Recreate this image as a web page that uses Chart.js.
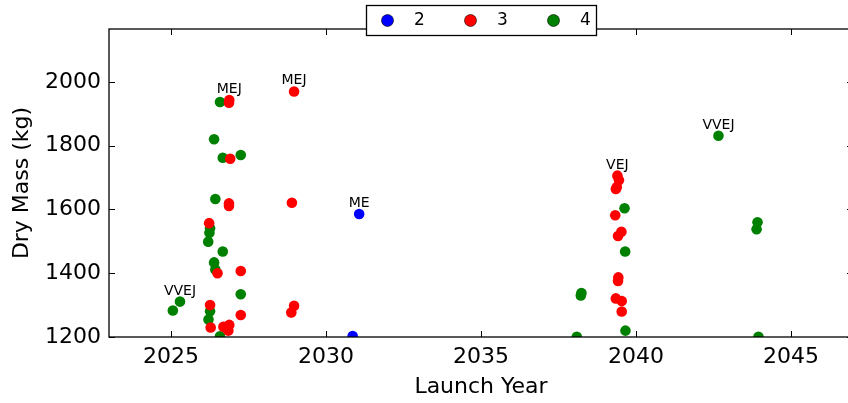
<!DOCTYPE html>
<html><head><meta charset="utf-8">
<script src="https://cdn.jsdelivr.net/npm/chart.js@4/dist/chart.umd.min.js"></script>
<style>html,body{margin:0;padding:0;overflow:hidden;background:#fff}#wrap{width:870px;height:403px}</style>
</head><body><div id="wrap"><canvas id="c" width="870" height="403"></canvas></div>
<script>
// ---- data ----
const seriesLabels = ['2', '3', '4'];
const seriesColors = ['#0000ff', '#ff0000', '#008000'];

const years2 = [2031.07, 2030.86];
const mass2  = [1586, 1203];

const years3 = [2028.97, 2026.88, 2026.87, 2026.91, 2026.87, 2026.87, 2028.90, 2026.23, 2026.50, 2027.25,
                2026.26, 2027.25, 2028.97, 2028.88, 2026.28, 2026.69, 2026.88, 2026.85, 2026.80,
                2039.40, 2039.45, 2039.38, 2039.35, 2039.33, 2039.53, 2039.42, 2039.43, 2039.42,
                2039.35, 2039.54, 2039.54];
const mass3  = [1970, 1943, 1935, 1759, 1619, 1611, 1621, 1557, 1400, 1407,
                1300, 1269, 1298, 1277, 1230, 1232, 1238, 1220, 1228,
                1706, 1692, 1670, 1664, 1582, 1530, 1517, 1387, 1376,
                1321, 1313, 1280];

const years4 = [2026.58, 2026.39, 2026.67, 2027.25, 2026.43, 2026.26, 2026.24, 2026.20, 2026.67, 2026.39,
                2026.43, 2027.25, 2025.29, 2025.06, 2026.26, 2026.21, 2026.58,
                2038.24, 2038.22, 2038.09, 2039.63, 2039.65, 2039.66,
                2042.66, 2043.92, 2043.89, 2043.95];
const mass4  = [1937, 1820, 1762, 1771, 1633, 1541, 1527, 1499, 1468, 1434,
                1412, 1334, 1311, 1283, 1281, 1255, 1202,
                1338, 1330, 1201, 1604, 1468, 1220,
                1831, 1560, 1538, 1201];

const annotText = ['MEJ', 'MEJ', 'ME', 'VEJ', 'VVEJ', 'VVEJ'];
const annotYear = [2026.88, 2028.97, 2031.07, 2039.40, 2042.66, 2025.29];
const annotMass = [1943, 1970, 1586, 1706, 1831, 1311];

const xTicks = [2025, 2030, 2035, 2040, 2045];
const yTicks = [1200, 1400, 1600, 1800, 2000];
const xRange = [2023, 2047];
const yRange = [1200, 2166];

const xTitle = 'Launch Year';
const yTitle = 'Dry Mass (kg)';

// ---- rendering ----
const FONT = "'DejaVu Sans', sans-serif";
const toPts = (xs, ys) => xs.map((x, i) => ({x: x, y: ys[i]}));
const allYears = [years2, years3, years4];
const allMass = [mass2, mass3, mass4];

const datasets = seriesLabels.map((lab, i) => ({
  label: lab,
  data: toPts(allYears[i], allMass[i]),
  backgroundColor: seriesColors[i],
  borderColor: seriesColors[i],
  borderWidth: 0,
  pointRadius: 5.3,
  pointHoverRadius: 5.3,
  clip: 0
}));

const framePlugin = {
  id: 'frame',
  afterDatasetsDraw(chart) {
    const ctx = chart.ctx, a = chart.chartArea;
    const xs = chart.scales.x, ys = chart.scales.y;
    ctx.save();
    ctx.strokeStyle = '#000';
    ctx.lineWidth = 1.3;
    ctx.strokeRect(a.left, a.top, a.right - a.left, a.bottom - a.top);
    const tl = 6;
    ctx.lineWidth = 1;
    ctx.beginPath();
    xTicks.forEach(v => {
      const px = Math.round(xs.getPixelForValue(v)) + 0.5;
      ctx.moveTo(px, a.bottom); ctx.lineTo(px, a.bottom - tl);
      ctx.moveTo(px, a.top); ctx.lineTo(px, a.top + tl);
    });
    yTicks.forEach(v => {
      const py = Math.round(ys.getPixelForValue(v)) + 0.5;
      ctx.moveTo(a.left, py); ctx.lineTo(a.left + tl, py);
      ctx.moveTo(a.right, py); ctx.lineTo(a.right - tl, py);
    });
    ctx.stroke();
    ctx.restore();
  }
};

const annotPlugin = {
  id: 'annot',
  afterDatasetsDraw(chart) {
    const ctx = chart.ctx;
    const xs = chart.scales.x, ys = chart.scales.y;
    ctx.save();
    ctx.fillStyle = '#000';
    ctx.font = "14px " + FONT;
    ctx.textAlign = 'center';
    ctx.textBaseline = 'alphabetic';
    annotText.forEach((t, i) => {
      const px = xs.getPixelForValue(annotYear[i]);
      const py = ys.getPixelForValue(annotMass[i]);
      ctx.fillText(t, px, py - 7);
    });
    ctx.restore();
  }
};

const legendPlugin = {
  id: 'boxLegend',
  afterDraw(chart) {
    const ctx = chart.ctx;
    const bx = 366.5, by = 5.5, bw = 230, bh = 30;
    ctx.save();
    ctx.fillStyle = '#fff';
    ctx.fillRect(bx, by, bw, bh);
    ctx.strokeStyle = '#000';
    ctx.lineWidth = 1.3;
    ctx.strokeRect(bx, by, bw, bh);
    const cy = by + bh / 2;
    const step = 83;
    ctx.font = "17px " + FONT;
    ctx.textAlign = 'center';
    ctx.textBaseline = 'middle';
    seriesLabels.forEach((lab, i) => {
      const mx = bx + 21 + i * step;
      ctx.beginPath();
      ctx.arc(mx, cy, 6, 0, Math.PI * 2);
      ctx.fillStyle = seriesColors[i];
      ctx.fill();
      ctx.lineWidth = 0.6;
      ctx.strokeStyle = '#000';
      ctx.stroke();
      ctx.fillStyle = '#000';
      ctx.fillText(lab, mx + 32, cy);
    });
    ctx.restore();
  }
};

new Chart(document.getElementById('c').getContext('2d'), {
  type: 'scatter',
  data: {datasets: datasets},
  options: {
    responsive: false,
    animation: false,
    devicePixelRatio: 1,
    events: [],
    layout: {padding: {top: 29, left: 0, right: 17, bottom: 0}},
    plugins: {legend: {display: false}, tooltip: {enabled: false}},
    scales: {
      x: {
        type: 'linear', min: xRange[0], max: xRange[1],
        afterFit(s) { s.height = 66; },
        afterBuildTicks(s) { s.ticks = xTicks.map(v => ({value: v})); },
        grid: {display: false, drawTicks: false},
        border: {display: false},
        ticks: {font: {family: FONT, size: 22}, color: '#000', padding: 7, maxRotation: 0, autoSkip: false,
                callback: v => String(v)},
        title: {display: true, text: xTitle, font: {family: FONT, size: 22}, color: '#000',
                padding: {top: 0, bottom: 3}}
      },
      y: {
        type: 'linear', min: yRange[0], max: yRange[1],
        afterFit(s) { s.width = 109; },
        afterBuildTicks(s) { s.ticks = yTicks.map(v => ({value: v})); },
        grid: {display: false, drawTicks: false},
        border: {display: false},
        ticks: {font: {family: FONT, size: 22}, color: '#000', padding: 8, autoSkip: false,
                callback: v => String(v)},
        title: {display: true, text: yTitle, font: {family: FONT, size: 22}, color: '#000',
                padding: {top: 9, bottom: 0}}
      }
    }
  },
  plugins: [framePlugin, annotPlugin, legendPlugin]
});
</script>
</body></html>
